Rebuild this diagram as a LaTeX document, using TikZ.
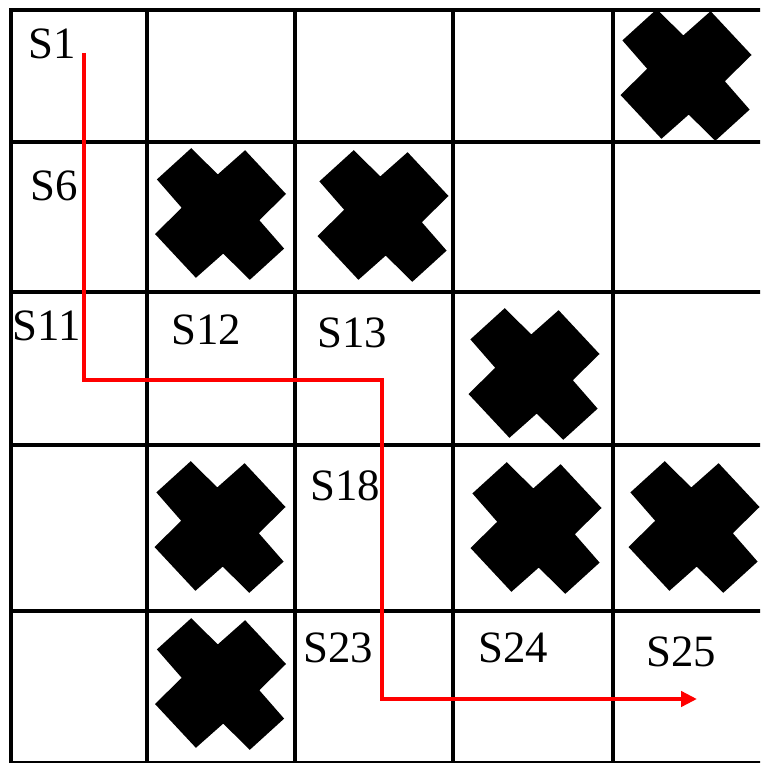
\documentclass[tikz,border=0pt]{standalone}
\usepackage{fontspec}
\setmainfont{Liberation Serif}
\usetikzlibrary{arrows.meta}

\tikzset{
  cellname/.style={inner sep=0pt, font=\fontsize{25.5}{30}\selectfont},
  gridline/.style={line width=0.07cm, black},
  route/.style={line width=0.08cm, red, -{Triangle[length=9pt,width=8.5pt]}},
  blocked/.pic={
    \fill[black] (-29.3,-65.8) -- (-2.7,-39.6) -- (24.6,-63.8) -- (65.5,-20)
      -- (38.8,6.2) -- (63.6,34.6) -- (29.3,65.8) -- (2.7,39.6)
      -- (-24.6,63.8) -- (-65.5,20) -- (-38.8,-6.2) -- (-63.6,-34.6) -- cycle;
  }
}

\begin{document}
\begin{tikzpicture}[x=0.02cm, y=-0.02cm]
\useasboundingbox (0,0) rectangle (760,763);
\clip (0,0) rectangle (760,763);
% Draw the grid
\foreach \x in {11,147,295,453,613}
  \draw[gridline] (\x,10) -- (\x,780);
\foreach \y in {10,142,292,445,611,763}
  \draw[gridline] (9.25,\y) -- (780,\y);
% Draw the blocked cells
\pic at (686,75) {blocked};
\pic at (220.5,214) {blocked};
\pic at (383,216) {blocked};
\pic at (534,374) {blocked};
\pic at (220,527) {blocked};
\pic at (536,528) {blocked};
\pic at (694,527) {blocked};
\pic at (220.5,684) {blocked};
% Define the nodes
\node[cellname] at (52,44) (s1) {S1};
\node[cellname] at (54,186) (s6) {S6};
\node[cellname] at (47,326) (s11) {S11};
\node[cellname] at (206,330) (s12) {S12};
\node[cellname] at (352,333) (s13) {S13};
\node[cellname] at (345,486) (s18) {S18};
\node[cellname] at (338,648) (s23) {S23};
\node[cellname] at (513,648) (s24) {S24};
\node[cellname] at (681,652) (s25) {S25};
% Draw the path
\coordinate (start) at (84,53);
\coordinate (turn1) at (84,380);
\coordinate (turn2) at (382,380);
\coordinate (turn3) at (382,699);
\coordinate (goal) at (697,699);
\draw[route] (start) -- (turn1) -- (turn2) -- (turn3) -- (goal);
\end{tikzpicture}
\end{document}
